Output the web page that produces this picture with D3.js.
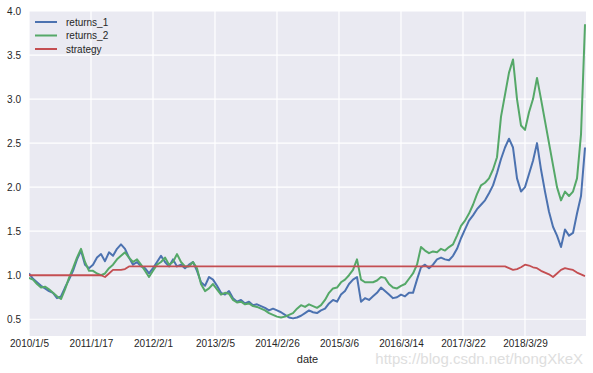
<!DOCTYPE html>
<html><head><meta charset="utf-8">
<script src="https://cdn.jsdelivr.net/npm/d3@7"></script>
<style>body{margin:0;background:#fff}svg{display:block}</style>
</head><body>
<svg id="c" width="593" height="373"></svg>
<script>
const tickLabels = ["2010/1/5","2011/1/17","2012/2/1","2013/2/5","2014/2/26","2015/3/6","2016/3/14","2017/3/22","2018/3/29"];
const tickDays = [0,250,500,750,1000,1250,1500,1750,2000];
const totalDays = 2246;
const yTicks = [0.5,1.0,1.5,2.0,2.5,3.0,3.5,4.0];

const returns_1 = [1.02,0.96,0.92,0.88,0.85,0.82,0.80,0.74,0.76,0.86,0.95,1.05,1.18,1.28,1.12,1.08,1.12,1.20,1.24,1.16,
1.26,1.22,1.30,1.35,1.30,1.20,1.12,1.15,1.10,1.08,1.02,1.08,1.15,1.22,1.15,1.10,1.18,1.10,1.12,1.08,
1.12,1.15,1.05,0.92,0.88,0.98,0.95,0.88,0.80,0.78,0.82,0.74,0.70,0.72,0.68,0.70,0.66,0.67,0.65,0.63,
0.60,0.62,0.60,0.58,0.55,0.52,0.51,0.52,0.54,0.57,0.60,0.58,0.57,0.60,0.62,0.68,0.72,0.70,0.78,0.82,
0.90,0.95,0.98,0.70,0.74,0.72,0.76,0.80,0.86,0.82,0.78,0.74,0.75,0.78,0.76,0.80,0.80,0.95,1.09,1.12,
1.08,1.12,1.18,1.20,1.18,1.17,1.22,1.30,1.42,1.52,1.62,1.68,1.75,1.80,1.85,1.93,2.02,2.16,2.32,2.45,
2.55,2.45,2.10,1.95,2.00,2.15,2.30,2.50,2.20,1.95,1.72,1.55,1.45,1.32,1.52,1.45,1.48,1.70,1.90,2.45];
const returns_2 = [0.97,0.95,0.90,0.86,0.87,0.84,0.80,0.76,0.73,0.84,0.97,1.08,1.20,1.30,1.15,1.05,1.05,1.02,1.00,1.02,
1.08,1.12,1.18,1.22,1.26,1.20,1.15,1.18,1.12,1.05,0.98,1.05,1.12,1.15,1.20,1.12,1.15,1.24,1.15,1.10,
1.10,1.15,1.08,0.90,0.82,0.85,0.90,0.84,0.78,0.80,0.79,0.72,0.69,0.70,0.67,0.68,0.65,0.64,0.62,0.60,
0.57,0.55,0.53,0.52,0.53,0.55,0.57,0.62,0.66,0.64,0.67,0.65,0.63,0.66,0.72,0.80,0.85,0.86,0.92,0.95,
1.00,1.06,1.18,0.95,0.92,0.92,0.92,0.94,0.98,0.97,0.90,0.86,0.85,0.88,0.90,0.96,1.02,1.12,1.32,1.28,
1.25,1.27,1.26,1.30,1.28,1.32,1.35,1.45,1.56,1.62,1.70,1.80,1.92,2.02,2.05,2.10,2.20,2.34,2.80,3.05,
3.30,3.45,3.00,2.70,2.65,2.85,3.00,3.24,3.00,2.75,2.50,2.25,2.00,1.85,1.95,1.90,1.95,2.10,2.60,3.85];
const strategy = [1.00,1.00,1.00,1.00,1.00,1.00,1.00,1.00,1.00,1.00,1.00,1.00,1.00,1.00,1.00,1.00,1.00,1.00,1.00,0.98,
1.02,1.06,1.06,1.06,1.07,1.10,1.10,1.10,1.10,1.10,1.10,1.10,1.10,1.10,1.10,1.10,1.10,1.10,1.10,1.10,
1.10,1.10,1.10,1.10,1.10,1.10,1.10,1.10,1.10,1.10,1.10,1.10,1.10,1.10,1.10,1.10,1.10,1.10,1.10,1.10,
1.10,1.10,1.10,1.10,1.10,1.10,1.10,1.10,1.10,1.10,1.10,1.10,1.10,1.10,1.10,1.10,1.10,1.10,1.10,1.10,
1.10,1.10,1.10,1.10,1.10,1.10,1.10,1.10,1.10,1.10,1.10,1.10,1.10,1.10,1.10,1.10,1.10,1.10,1.10,1.10,
1.10,1.10,1.10,1.10,1.10,1.10,1.10,1.10,1.10,1.10,1.10,1.10,1.10,1.10,1.10,1.10,1.10,1.10,1.10,1.10,
1.08,1.06,1.07,1.09,1.12,1.11,1.09,1.08,1.05,1.03,1.01,0.98,1.02,1.06,1.08,1.07,1.06,1.03,1.01,0.99];
const seriesNames = ["returns_1","returns_2","strategy"];
const colors = ["#4C72B0","#55A868","#C44E52"];

const n = returns_1.length;
const days = d3.range(n).map(k => k * (totalDays - 4) / (n - 1));

const W = 593, H = 373;
const m = {left:29, right:7, top:11, bottom:37};
const svg = d3.select("#c");
const x = d3.scaleLinear().domain([0, totalDays]).range([m.left, W - m.right]);
const y = d3.scaleLinear().domain([0.31, 4.0]).range([H - m.bottom, m.top]);

svg.append("rect").attr("x", m.left).attr("y", m.top)
  .attr("width", W - m.left - m.right).attr("height", H - m.top - m.bottom).attr("fill", "#EAEAF2");

const font = "'Liberation Sans', Arial, sans-serif";
// grid
svg.append("g").selectAll("line").data(yTicks).join("line")
  .attr("x1", m.left).attr("x2", W - m.right).attr("y1", d => y(d)).attr("y2", d => y(d))
  .attr("stroke", "#fff").attr("stroke-width", 1.2);
svg.append("g").selectAll("line").data(tickDays).join("line")
  .attr("y1", m.top).attr("y2", H - m.bottom).attr("x1", d => x(d)).attr("x2", d => x(d))
  .attr("stroke", "#fff").attr("stroke-width", 1.2);

// watermark (behind texts)
svg.append("text").attr("x", 583).attr("y", 364).attr("text-anchor","end")
  .attr("font-family", font).attr("font-size", 15).attr("fill", "#dedede")
  .text("https://blog.csdn.net/hongXkeX");

// axes
const xAxis = d3.axisBottom(x).tickValues(tickDays).tickFormat((d,i) => tickLabels[i]).tickSize(0).tickPadding(4);
const gx = svg.append("g").attr("transform", `translate(0,${H - m.bottom})`).call(xAxis);
gx.select(".domain").remove();
gx.selectAll("text").attr("font-family", font).attr("font-size", 10).attr("fill", "#262626");

const yAxis = d3.axisLeft(y).tickValues(yTicks).tickFormat(d3.format(".1f")).tickSize(0).tickPadding(8);
const gy = svg.append("g").attr("transform", `translate(${m.left},0)`).call(yAxis);
gy.select(".domain").remove();
gy.selectAll("text").attr("font-family", font).attr("font-size", 10).attr("fill", "#262626");

// lines
svg.append("clipPath").attr("id","clip").append("rect")
  .attr("x", m.left).attr("y", m.top).attr("width", W - m.left - m.right).attr("height", H - m.top - m.bottom);
const line = d3.line().x((d,i) => x(days[i])).y(d => y(d));
const data = [returns_1, returns_2, strategy];
const widths = [2, 2, 1.8];
svg.append("g").attr("clip-path","url(#clip)").selectAll("path").data(data).join("path")
  .attr("d", line).attr("fill","none")
  .attr("stroke", (d,i) => colors[i]).attr("stroke-width", (d,i) => widths[i])
  .attr("stroke-linejoin","round");

// legend
const lg = svg.append("g").selectAll("g").data(seriesNames).join("g")
  .attr("transform", (d,i) => `translate(35,${22 + i*13.5})`);
lg.append("line").attr("x1",0).attr("x2",22).attr("stroke",(d,i)=>colors[i]).attr("stroke-width",2);
lg.append("text").attr("x",31).attr("y",3.5).text(d=>d)
  .attr("font-family", font).attr("font-size", 10).attr("fill", "#262626");

// x label
svg.append("text").attr("x", (m.left + W - m.right)/2).attr("y", 363).attr("text-anchor","middle")
  .attr("font-family", font).attr("font-size", 11).attr("fill", "#262626").text("date");
</script>
</body></html>
